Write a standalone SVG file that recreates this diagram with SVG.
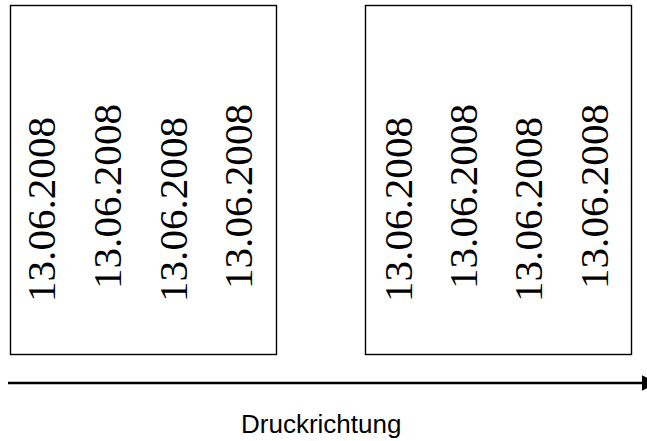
<svg xmlns="http://www.w3.org/2000/svg" width="647" height="441" viewBox="0 0 647 441">
<style>
.box{fill:#fff;stroke:#000;stroke-width:1.4}
.d{font-family:"Liberation Serif",Tinos,"Noto Serif","DejaVu Serif","Times New Roman",Times,serif;font-size:41px;fill:#000}
.lbl{font-family:"Liberation Sans",Arial,sans-serif;font-size:26px;fill:#000}
</style>
<defs>
<marker id="ah" markerWidth="6" markerHeight="6" refX="0" refY="3" orient="auto" markerUnits="strokeWidth"><path d="M0,0 L6,3 L0,6 Z" fill="#000"/></marker>
</defs>
<rect width="647" height="441" fill="#fff"/>
<g id="box1">
<rect class="box" x="10.5" y="5.5" width="266" height="349"/>
<text class="d" transform="translate(55,302) rotate(-90)" textLength="185" lengthAdjust="spacingAndGlyphs">13.06.2008</text>
<text class="d" transform="translate(121,289) rotate(-90)" textLength="185" lengthAdjust="spacingAndGlyphs">13.06.2008</text>
<text class="d" transform="translate(187,302) rotate(-90)" textLength="185" lengthAdjust="spacingAndGlyphs">13.06.2008</text>
<text class="d" transform="translate(252,289) rotate(-90)" textLength="185" lengthAdjust="spacingAndGlyphs">13.06.2008</text>
</g>
<g id="box2">
<rect class="box" x="365.5" y="5.5" width="266" height="349"/>
<text class="d" transform="translate(412,302) rotate(-90)" textLength="185" lengthAdjust="spacingAndGlyphs">13.06.2008</text>
<text class="d" transform="translate(477,289) rotate(-90)" textLength="185" lengthAdjust="spacingAndGlyphs">13.06.2008</text>
<text class="d" transform="translate(542,302) rotate(-90)" textLength="185" lengthAdjust="spacingAndGlyphs">13.06.2008</text>
<text class="d" transform="translate(608,289) rotate(-90)" textLength="185" lengthAdjust="spacingAndGlyphs">13.06.2008</text>
</g>
<g id="connectors">
<line x1="8" y1="383" x2="642" y2="383" stroke="#000" stroke-width="2.6" marker-end="url(#ah)"/>
</g>
<g id="label">
<text class="lbl" x="241" y="433">Druckrichtung</text>
</g>
</svg>
